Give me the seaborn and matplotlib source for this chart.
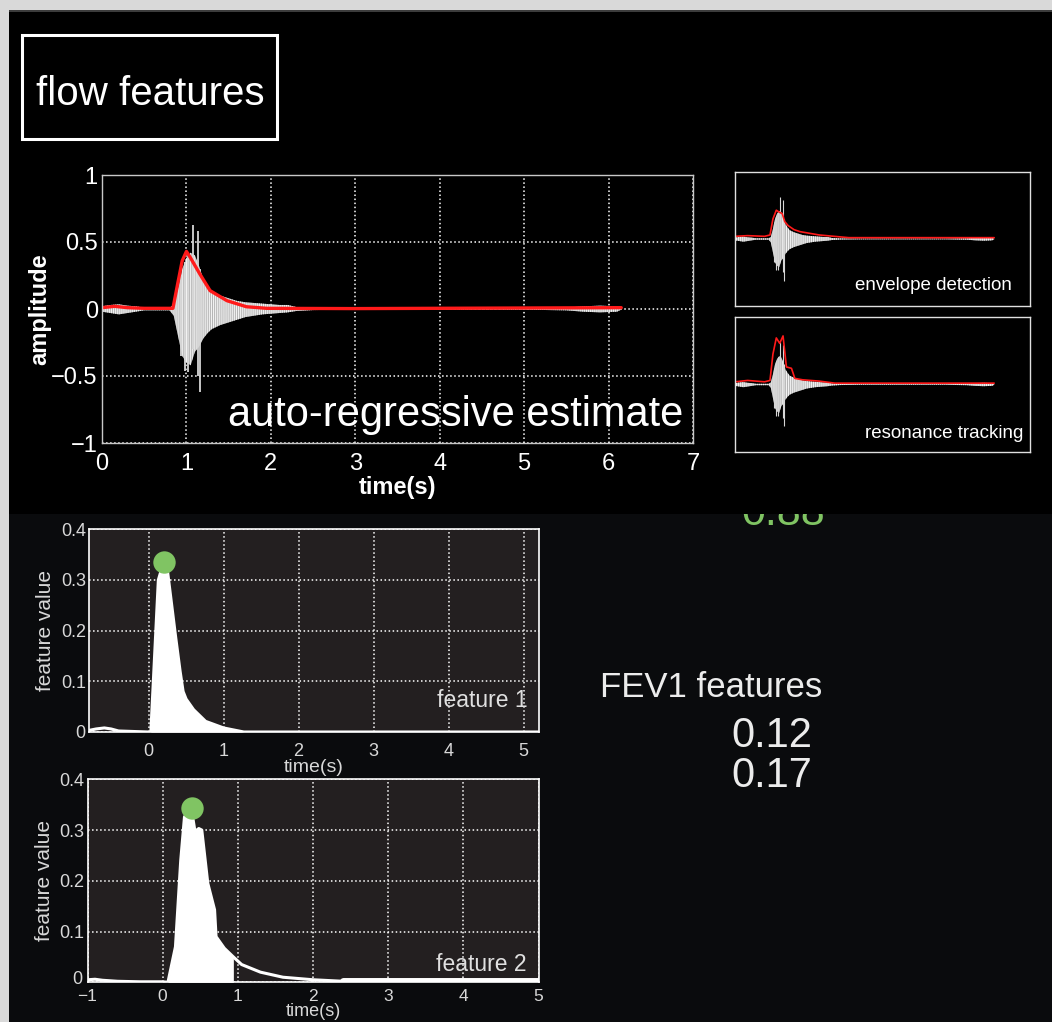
import numpy as np
import matplotlib
matplotlib.use('Agg')
import matplotlib.pyplot as plt
from matplotlib.patches import Rectangle
from matplotlib.transforms import ScaledTranslation
import seaborn as sns

# ---- main recording: gray signal envelope + spikes, red AR estimate ----
gray_t = [0, 0.1, 0.2, 0.3, 0.4, 0.5, 0.6, 0.7, 0.8, 0.85, 0.9, 0.95, 1.0, 1.05, 1.1, 1.15,
          1.2, 1.25, 1.3, 1.4, 1.5, 1.6, 1.7, 1.8, 1.9, 2.0, 2.1, 2.2, 2.3, 2.5, 3.0, 4.0,
          5.0, 5.5, 5.7, 5.9, 6.1, 6.15]
gray_hi = [0.02, 0.03, 0.035, 0.025, 0.02, 0.01, 0.01, 0.01, 0.01, 0.03, 0.15, 0.3, 0.38, 0.42,
           0.4, 0.32, 0.22, 0.17, 0.13, 0.1, 0.08, 0.06, 0.05, 0.045, 0.04, 0.035, 0.03, 0.03,
           0.015, 0.008, 0.005, 0.005, 0.005, 0.01, 0.02, 0.025, 0.02, 0.005]
gray_lo = [-0.02, -0.03, -0.04, -0.03, -0.02, -0.01, -0.01, -0.01, -0.01, -0.05, -0.2, -0.35,
           -0.4, -0.42, -0.32, -0.28, -0.22, -0.18, -0.15, -0.12, -0.1, -0.08, -0.06, -0.05,
           -0.04, -0.035, -0.03, -0.025, -0.015, -0.008, -0.005, -0.005, -0.005, -0.01, -0.02,
           -0.025, -0.02, -0.005]
spike_t = [0.93, 0.98, 1.02, 1.075, 1.14, 1.16]
spike_hi = [0.25, 0.35, 0.4, 0.63, 0.58, 0.3]
spike_lo = [-0.35, -0.46, -0.47, -0.3, -0.5, -0.62]

ar_t = [0, 0.15, 0.3, 0.5, 0.84, 0.9, 0.95, 1.0, 1.05, 1.16, 1.28, 1.48, 1.71, 1.95, 3.0, 6.15]
ar_v = [0.01, 0.02, 0.01, 0.005, 0.005, 0.2, 0.36, 0.43, 0.38, 0.26, 0.137, 0.062, 0.017,
        0.005, 0.003, 0.01]

# small panels
det_t = [0, 0.3, 0.7, 0.83, 0.9, 0.98, 1.05, 1.12, 1.18, 1.26, 1.4, 1.54, 2.0, 2.7, 4.0, 6.15]
det_v = [0.04, 0.05, 0.04, 0.06, 0.3, 0.43, 0.4, 0.38, 0.26, 0.2, 0.14, 0.11, 0.06, 0.02,
         0.02, 0.02]
res_t = [0, 0.3, 0.7, 0.83, 0.9, 0.98, 1.06, 1.14, 1.22, 1.34, 1.42, 1.6, 2.0, 2.37, 4.0, 6.15]
res_v = [0.04, 0.06, 0.04, 0.06, 0.45, 0.69, 0.61, 0.72, 0.26, 0.24, 0.09, 0.07, 0.05, 0.02,
         0.02, 0.02]

# feature curves
f1_t = [-0.8, -0.7, -0.59, -0.5, -0.4, -0.2, 0.0, 0.03, 0.08, 0.13, 0.2, 0.25, 0.3, 0.36,
        0.42, 0.46, 0.5, 0.6, 0.76, 1.0, 1.27, 5.2]
f1_v = [0.003, 0.006, 0.008, 0.006, 0.002, 0.001, 0.0, 0.0, 0.15, 0.3, 0.335, 0.32, 0.26,
        0.188, 0.12, 0.08, 0.065, 0.044, 0.021, 0.008, 0.0, 0.0]
f1_peak = (0.2, 0.335)
f2_t = [-1.0, -0.9, -0.8, -0.6, -0.3, 0.0, 0.07, 0.17, 0.24, 0.29, 0.38, 0.43, 0.48, 0.52,
        0.6, 0.69, 0.71, 0.82, 0.94, 1.05, 1.3, 1.6, 2.0, 2.4, 5.0]
f2_v = [0.005, 0.006, 0.004, 0.002, 0.001, 0.001, 0.0, 0.07, 0.24, 0.326, 0.343, 0.297, 0.303,
        0.30, 0.195, 0.143, 0.09, 0.067, 0.05, 0.035, 0.02, 0.01, 0.005, 0.002, 0.002]
f2_peak = (0.39, 0.343)

fev1_vals = ['0.12', '0.17']
top_val = '0.88'

W, H = 1052, 1022
GREEN = '#80c463'

sns.set_style('dark')
plt.rcParams['font.family'] = ['Liberation Sans', 'DejaVu Sans']
plt.rcParams['hatch.linewidth'] = 0.8

fig = plt.figure(figsize=(W / 100, H / 100), dpi=100, facecolor='#d9d9d9')


def px_axes(x0, y0, x1, y1):
    return fig.add_axes([x0 / W, 1 - y1 / H, (x1 - x0) / W, (y1 - y0) / H])


def fig_rect(x0, y0, x1, y1, **kw):
    fig.add_artist(Rectangle((x0 / W, 1 - y1 / H), (x1 - x0) / W, (y1 - y0) / H,
                             transform=fig.transFigure, **kw))


def fig_text(x, y, s, **kw):
    fig.text(x / W, 1 - y / H, s, **kw)


def draw_signal(a, spike_lw):
    a.fill_between(gray_t, gray_lo, gray_hi, facecolor='#b4b4b4', edgecolor='#f2f2f2',
                   hatch='||||||||', lw=0)
    a.vlines(spike_t, spike_lo, spike_hi, color='#d6d6d6', lw=spike_lw)


# slide panels
fig_rect(9, 514, 1052, 1022, color='#0a0b0d', zorder=-3, lw=0)
fig_text(741, 525, top_val, color=GREEN, fontsize=31, va='baseline', zorder=-2)
fig_rect(9, 10, 1052, 514, color='black', zorder=-1, lw=0)
fig_rect(9, 10, 1052, 12, color='#3c3c3c', zorder=-1, lw=0)

# title box
fig_rect(22, 35, 277, 139, facecolor='none', edgecolor='white', lw=2.2, zorder=2)
fig_text(150, 105, 'flow features', color='white', fontsize=29, ha='center', va='baseline')

# ---- main plot ----
ax = px_axes(102, 175, 693, 443)
ax.set_facecolor('black')
draw_signal(ax, 1.3)
sns.lineplot(x=ar_t, y=ar_v, ax=ax, color='#ff1a1a', lw=2.4)
ax.set_xlim(0, 7)
ax.set_ylim(-1, 1)
ax.set_xticks(range(8))
ax.set_yticks([-1, -0.5, 0, 0.5, 1])
ax.set_yticklabels(['\u22121', '\u22120.5', '0', '0.5', '1'])
ax.grid(True, linestyle=':', color='white', lw=1.1)
ax.set_axisbelow(True)
for s in ax.spines.values():
    s.set_color('#c8c8c8')
    s.set_linewidth(1)
ax.tick_params(direction='in', length=4, color='#c8c8c8', labelcolor='white', labelsize=17)
ax.tick_params(axis='x', pad=7)
ax.tick_params(axis='y', pad=3)
ax.set_xlabel('time(s)', color='white', fontsize=17, fontweight='bold', labelpad=1)
ax.set_ylabel('amplitude', color='white', fontsize=17, fontweight='bold', labelpad=0)
ax.text(6.88, -0.87, 'auto-regressive estimate', color='white', fontsize=30, ha='right',
        va='baseline')

# ---- small comparison panels ----
for (y0, y1), (tt, vv), name, tx, ty in [((172, 306), (det_t, det_v), 'envelope detection', 0.939, 0.117),
                                           ((317, 452), (res_t, res_v), 'resonance tracking', 0.976, 0.107)]:
    bx = px_axes(735, y0, 1030, y1)
    bx.set_facecolor('black')
    draw_signal(bx, 0.8)
    sns.lineplot(x=tt, y=vv, ax=bx, color='#ff1a1a', lw=1.2)
    bx.set_xlim(0, 7)
    bx.set_ylim(-1, 1)
    bx.set_xticks([])
    bx.set_yticks([])
    bx.set_xlabel('')
    bx.set_ylabel('')
    for s in bx.spines.values():
        s.set_color('#e0e0e0')
        s.set_linewidth(1)
    bx.text(tx, ty, name, color='white', fontsize=13.5, ha='right', va='baseline',
            transform=bx.transAxes)

# ---- feature plots ----
feat = [((88.6, 529.3, 538.6, 732), f1_t, f1_v, f1_peak, (-0.8, 5.2), (0.0, 1.27), 'feature 1', 0.976, 0.125),
        ((87.5, 779.3, 538.6, 982.3), f2_t, f2_v, f2_peak, (-1, 5), (0.0, 0.94), 'feature 2', 0.974, 0.057)]
for k, (box, tt, vv, pk, xl, fr, name, tx, ty) in enumerate(feat):
    fx = px_axes(*box)
    fx.set_facecolor('#231f20')
    t_arr = np.array(tt)
    fx.fill_between(tt, 0, vv, where=(t_arr >= fr[0]) & (t_arr <= fr[1]), color='white', lw=0)
    sns.lineplot(x=tt, y=vv, ax=fx, color='white', lw=2.2)
    if k == 1:
        tail = t_arr >= 2.4
        sns.lineplot(x=t_arr[tail], y=np.array(vv)[tail], ax=fx, color='white', lw=5)
    fx.scatter([pk[0]], [pk[1]], s=260, color=GREEN, zorder=5, lw=0)
    ticks = list(range(int(np.ceil(xl[0])), 6))
    fx.set_xlim(*xl)
    fx.set_ylim(0, 0.4)
    fx.set_xticks(ticks)
    fx.set_yticks([0, 0.1, 0.2, 0.3, 0.4])
    fx.set_xticklabels([str(v).replace('-', '\u2212') for v in ticks])
    fx.set_yticklabels(['0', '0.1', '0.2', '0.3', '0.4'])
    fx.grid(True, linestyle=':', color='white', lw=1.1)
    fx.set_axisbelow(True)
    for s in fx.spines.values():
        s.set_color('white')
        s.set_linewidth(1.2)
    fx.tick_params(direction='in', length=3, color='white', labelcolor='#d8d8d8', labelsize=13)
    fx.tick_params(axis='y', pad=2)
    if k == 0:
        fx.tick_params(axis='x', pad=8)
        fx.set_xlabel('time(s)', color='#d8d8d8', fontsize=14, labelpad=-1)
    else:
        fx.tick_params(axis='x', pad=5, labelsize=12.5)
        fx.set_xlabel('time(s)', color='#d8d8d8', fontsize=13, labelpad=-1)
        zero_lab = fx.get_yticklabels()[0]
        zero_lab.set_transform(zero_lab.get_transform() +
                               ScaledTranslation(-2 / 100, 5 / 100, fig.dpi_scale_trans))
    fx.set_ylabel('feature value', color='#d8d8d8', fontsize=15, labelpad=4)
    fx.text(tx, ty, name, color='#e0e0e0', fontsize=16.5, ha='right', va='baseline',
            transform=fx.transAxes)

# FEV1 text block
fig_text(600, 697, 'FEV1 features', color='#ececec', fontsize=25, va='baseline')
fig_text(731, 747, fev1_vals[0], color='#ececec', fontsize=30, va='baseline')
fig_text(731, 787, fev1_vals[1], color='#ececec', fontsize=30, va='baseline')

fig.savefig('out.png', dpi=100, facecolor=fig.get_facecolor())
